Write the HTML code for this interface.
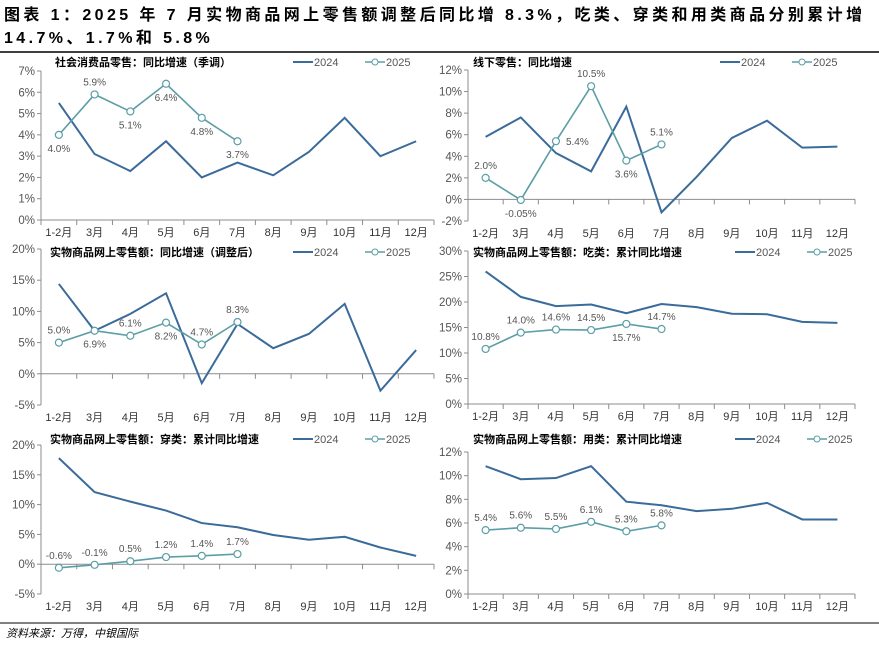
<!DOCTYPE html>
<html><head><meta charset="utf-8">
<style>
body{margin:0;width:879px;height:645px;background:#fff;overflow:hidden;font-family:"Liberation Sans","Noto Sans CJK SC",sans-serif;}
#title{position:absolute;left:4px;top:4px;font-size:16px;font-weight:bold;line-height:23px;color:#000;letter-spacing:3.4px;white-space:nowrap}
svg{position:absolute;left:0;top:0}
</style></head><body>
<div id="title">图表 1：2025 年 7 月实物商品网上零售额调整后同比增 8.3%，吃类、穿类和用类商品分别累计增<br>14.7%、1.7%和 5.8%</div>
<svg id="c" width="879" height="645"></svg>
<script>
const categories=["1-2月","3月","4月","5月","6月","7月","8月","9月","10月","11月","12月"];
const p1_2024=[5.5,3.1,2.3,3.7,2.0,2.7,2.1,3.2,4.8,3.0,3.7];
const p1_2025=[4.0,5.9,5.1,6.4,4.8,3.7];
const p1_labels=["4.0%","5.9%","5.1%","6.4%","4.8%","3.7%"];
const p2_2024=[5.8,7.6,4.3,2.6,8.6,-1.2,2.1,5.7,7.3,4.8,4.9];
const p2_2025=[2.0,-0.05,5.4,10.5,3.6,5.1];
const p2_labels=["2.0%","-0.05%","5.4%","10.5%","3.6%","5.1%"];
const p3_2024=[14.4,6.9,9.6,12.9,-1.5,8.0,4.1,6.4,11.2,-2.7,3.8];
const p3_2025=[5.0,6.9,6.1,8.2,4.7,8.3];
const p3_labels=["5.0%","6.9%","6.1%","8.2%","4.7%","8.3%"];
const p4_2024=[26.0,21.0,19.2,19.5,17.8,19.6,19.0,17.7,17.6,16.1,15.9];
const p4_2025=[10.8,14.0,14.6,14.5,15.7,14.7];
const p4_labels=["10.8%","14.0%","14.6%","14.5%","15.7%","14.7%"];
const p5_2024=[17.8,12.1,10.5,9.0,6.9,6.2,4.9,4.1,4.6,2.8,1.4];
const p5_2025=[-0.6,-0.1,0.5,1.2,1.4,1.7];
const p5_labels=["-0.6%","-0.1%","0.5%","1.2%","1.4%","1.7%"];
const p6_2024=[10.8,9.7,9.8,10.8,7.8,7.5,7.0,7.2,7.7,6.3,6.3];
const p6_2025=[5.4,5.6,5.5,6.1,5.3,5.8];
const p6_labels=["5.4%","5.6%","5.5%","6.1%","5.3%","5.8%"];

const NS="http://www.w3.org/2000/svg";
const svg=document.getElementById('c');
function el(t,a,txt,parent){const e=document.createElementNS(NS,t);for(const k in a)e.setAttribute(k,a[k]);if(txt!==undefined)e.textContent=txt;(parent||svg).appendChild(e);return e;}
const C24="#3a6b9a",C25="#5b9ea6",AX="#8c8c8c";
const panels=[
 {t:"社会消费品零售：同比增速（季调）",x0:41,x1:434,yt:71,yb:220,min:0,max:7,step:1,a:p1_2024,b:p1_2025,l:p1_labels,off:[1,-1,1,1,1,1],lx:293,tx:55,ty:66},
 {t:"线下零售：同比增速",x0:468,x1:855,yt:70,yb:221,min:-2,max:12,step:2,a:p2_2024,b:p2_2025,l:p2_labels,off:[-1,1,2,-1,1,-1],lx:720,tx:473,ty:66},
 {t:"实物商品网上零售额：同比增速（调整后）",x0:41,x1:434,yt:249,yb:405,min:-5,max:20,step:5,a:p3_2024,b:p3_2025,l:p3_labels,off:[-1,1,-1,1,-1,-1],lx:293,tx:50,ty:256},
 {t:"实物商品网上零售额：吃类：累计同比增速",x0:468,x1:855,yt:251,yb:404,min:0,max:30,step:5,a:p4_2024,b:p4_2025,l:p4_labels,off:[-1,-1,-1,-1,1,-1],lx:735,tx:473,ty:256},
 {t:"实物商品网上零售额：穿类：累计同比增速",x0:41,x1:434,yt:445,yb:594,min:-5,max:20,step:5,a:p5_2024,b:p5_2025,l:p5_labels,off:[-1,-1,-1,-1,-1,-1],lx:293,tx:50,ty:443},
 {t:"实物商品网上零售额：用类：累计同比增速",x0:468,x1:855,yt:452,yb:594,min:0,max:12,step:2,a:p6_2024,b:p6_2025,l:p6_labels,off:[-1,-1,-1,-1,-1,-1],lx:735,tx:473,ty:443}
];
panels.forEach((p,pi)=>{
 const g=el('g',{});
 
 
 const y=v=>p.yb-(v-p.min)/(p.max-p.min)*(p.yb-p.yt);
 const bw=(p.x1-p.x0)/categories.length;
 const x=i=>p.x0+bw*(i+0.5);
 el('line',{x1:p.x0,y1:p.yt,x2:p.x0,y2:p.yb,stroke:AX},undefined,g);
 for(let v=p.min;v<=p.max+1e-9;v+=p.step){
  el('line',{x1:p.x0-4,y1:y(v),x2:p.x0,y2:y(v),stroke:AX},undefined,g);
  const t=el('text',{x:p.x0-6,y:y(v)+4,'text-anchor':'end','font-size':11.5,fill:'#555'},v+'%',g);
  
  
 }
 const zy=y(Math.max(0,p.min));
 el('line',{x1:p.x0,y1:zy,x2:p.x1,y2:zy,stroke:AX},undefined,g);
 for(let i=0;i<=categories.length;i++)el('line',{x1:p.x0+bw*i,y1:zy,x2:p.x0+bw*i,y2:zy+5,stroke:AX},undefined,g);
 categories.forEach((c,i)=>{
  const t=el('text',{x:x(i),y:p.yb+16,'text-anchor':'middle','font-size':11,fill:'#333'},c,g);
  
  
 });
 const tt=el('text',{x:p.tx,y:p.ty,'font-size':11,'font-weight':'bold',fill:'#000'},p.t,g);
 
 
 el('line',{x1:p.lx,y1:p.ty-4,x2:p.lx+20,y2:p.ty-4,stroke:C24,'stroke-width':2},undefined,g);
 const l1=el('text',{x:p.lx+21,y:p.ty,'font-size':11,fill:'#555'},'2024',g);
 
 
 el('line',{x1:p.lx+72,y1:p.ty-4,x2:p.lx+92,y2:p.ty-4,stroke:C25,'stroke-width':1.5},undefined,g);
 el('circle',{cx:p.lx+82,cy:p.ty-4,r:3,fill:'#fff',stroke:C25},undefined,g);
 const l2=el('text',{x:p.lx+93,y:p.ty,'font-size':11,fill:'#555'},'2025',g);
 
 
 const s1=el('polyline',{points:p.a.map((v,i)=>x(i)+','+y(v)).join(' '),fill:'none',stroke:C24,'stroke-width':2},undefined,g);
 
 
 const s2=el('polyline',{points:p.b.map((v,i)=>x(i)+','+y(v)).join(' '),fill:'none',stroke:C25,'stroke-width':1.6},undefined,g);
 
 
 p.b.forEach((v,i)=>{
  const c=el('circle',{cx:x(i),cy:y(v),r:3.5,fill:'#fff',stroke:C25,'stroke-width':1.2},undefined,g);
  
  
  const o=p.off[i];
  let lx=x(i),ly=o<0?y(v)-9:y(v)+17,anc='middle';
  if(o===2){lx=x(i)+10;ly=y(v)+4;anc='start';}
  const t=el('text',{x:lx,y:ly,'text-anchor':anc,'font-size':10,fill:'#555'},p.l[i],g);
  
  
 });
});
el('line',{x1:0,y1:52,x2:879,y2:52,stroke:'#000','stroke-width':1.5});
el('line',{x1:0,y1:623,x2:879,y2:623,stroke:'#000','stroke-width':1});
const src=el('text',{x:6,y:637,'font-size':11,'font-style':'italic',fill:'#000'},'资料来源：万得，中银国际');


</script>
</body></html>
